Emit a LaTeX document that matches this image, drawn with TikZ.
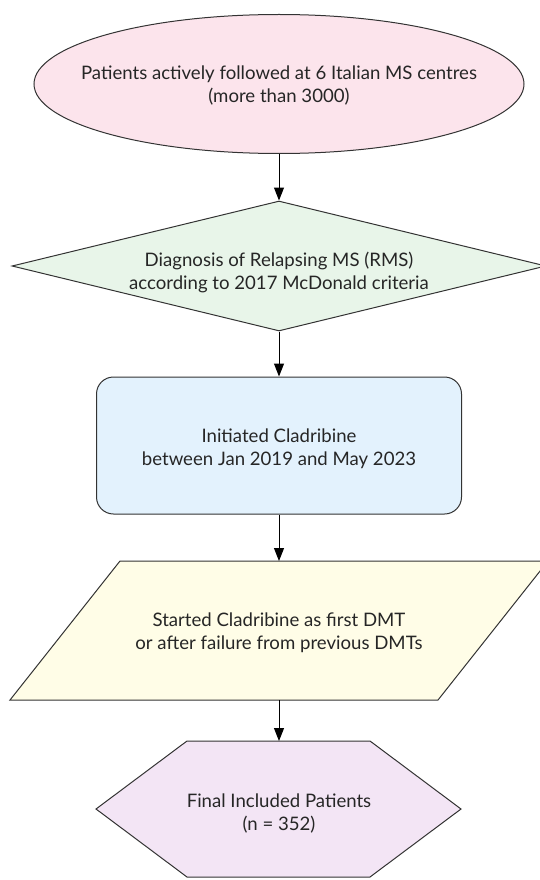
\documentclass[tikz,border=0pt]{standalone}
\usepackage{fontspec}
\setmainfont{Lato}
\usetikzlibrary{shapes.geometric,arrows.meta}
\definecolor{pinkf}{HTML}{FCE4EC}
\definecolor{greenf}{HTML}{E8F5E9}
\definecolor{bluef}{HTML}{E3F2FD}
\definecolor{yellowf}{HTML}{FFFDE7}
\definecolor{purplef}{HTML}{F3E5F5}
\definecolor{edge}{HTML}{333333}
\begin{document}
\begin{tikzpicture}[x=1pt,y=-1pt,
  shapeline/.style={draw=edge,line width=1pt},
  label/.style={align=center,font=\fontsize{18.6}{23}\selectfont,text=black!85},
  conn/.style={draw=black,line width=1pt,-{Triangle[length=13pt,width=10pt]}}]
\useasboundingbox (0,0) rectangle (540,880);
% shapes
\node[shapeline,fill=pinkf,ellipse,minimum width=490pt,minimum height=139pt,inner sep=0pt] (n1) at (279,84) {};
\node[shapeline,fill=greenf,diamond,minimum width=534pt,minimum height=130pt,inner sep=0pt] (n2) at (279,266) {};
\node[shapeline,fill=bluef,rectangle,rounded corners=17pt,minimum width=365pt,minimum height=137pt,inner sep=0pt] (n3) at (279,445.5) {};
\draw[shapeline,fill=yellowf] (120,561) -- (548,561) -- (438,700) -- (10,700) -- cycle;
\coordinate (n4top) at (279,561);
\coordinate (n4bot) at (279,700);
\draw[shapeline,fill=purplef] (96,809) -- (187,741) -- (370,741) -- (461,809) -- (370,877) -- (187,877) -- cycle;
\coordinate (n5top) at (279,741);
% texts
\node[label] (t1) at (279,86) {Patients actively followed at 6 Italian MS centres\\(more than 3000)};
\node[label] (t2) at (279,272) {Diagnosis of Relapsing MS (RMS)\\according to 2017 McDonald criteria};
\node[label] (t3) at (279,449) {Initiated Cladribine\\between Jan 2019 and May 2023};
\node[label] (t4) at (279,633) {Started Cladribine as first DMT\\or after failure from previous DMTs};
\node[label] (t5) at (279,814) {Final Included Patients\\(n = 352)};
% connectors
\draw[conn] (n1.south) -- (n2.north);
\draw[conn] (n2.south) -- (n3.north);
\draw[conn] (n3.south) -- (n4top);
\draw[conn] (n4bot) -- (n5top);
\end{tikzpicture}
\end{document}
